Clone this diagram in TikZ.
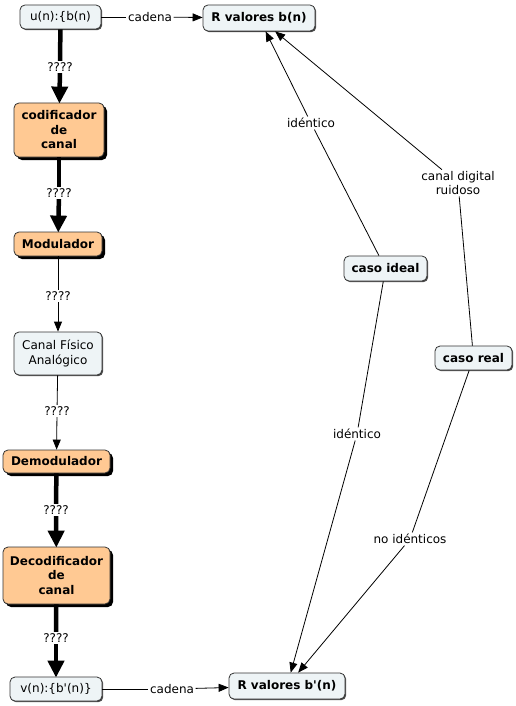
\documentclass[tikz,border=0pt]{standalone}
\usepackage{fontspec}
\setmainfont{DejaVu Sans}
\usetikzlibrary{arrows.meta,shadows}
\definecolor{lightc}{HTML}{EEF4F6}
\definecolor{orangec}{HTML}{FFC993}
\tikzset{
  concept/.style={draw=black!80, line width=0.8pt, rounded corners=5pt, fill=lightc,
    align=center, inner sep=1pt, font=\fontsize{12}{15}\selectfont,
    drop shadow={shadow xshift=1.2pt, shadow yshift=-1.2pt, fill=black!70, opacity=1}},
  orange/.style={concept, fill=orangec, font=\fontsize{12}{14.5}\selectfont\bfseries,
    drop shadow={shadow xshift=3pt, shadow yshift=-3pt, fill=black, opacity=1}},
  boldc/.style={concept, font=\fontsize{12}{14}\selectfont\bfseries},
  lbl/.style={inner sep=1.5pt, align=center, font=\fontsize{12}{14}\selectfont},
  thin/.style={line width=0.8pt},
  thinarr/.style={thin, -{Triangle[width=8pt,length=10pt]}},
  thick/.style={line width=4.5pt},
  thickarr/.style={thick, -{Triangle[width=16pt,length=17pt]}, shorten >=-1pt},
}
\begin{document}
\begin{tikzpicture}[x=1pt,y=-1pt]
\useasboundingbox (0,0) rectangle (515,706);
% concepts
\node[concept, minimum width=81pt, minimum height=24pt] (u) at (60.5,17) {u(n):\{b(n)};
\node[boldc, minimum width=112pt, minimum height=26pt] (Rb) at (259,18) {R valores b(n)};
\node[orange, minimum width=90pt, minimum height=54pt] (cod) at (59,130) {codificador\\de\\canal};
\node[orange, minimum width=88pt, minimum height=24pt] (mod) at (58,244) {Modulador};
\node[concept, minimum width=88pt, minimum height=43pt] (canal) at (58,353.5) {Canal Físico\\Analógico};
\node[orange, minimum width=107pt, minimum height=23pt] (demod) at (56.5,461.5) {Demodulador};
\node[orange, minimum width=107pt, minimum height=57pt] (decod) at (56.5,575.5) {Decodificador\\de\\canal};
\node[concept, minimum width=92pt, minimum height=24pt] (v) at (56,689) {v(n):\{b\textquotesingle(n)\}};
\node[boldc, minimum width=116pt, minimum height=26pt] (Rbp) at (287,686) {R valores b\textquotesingle(n)};
\node[boldc, minimum width=83pt, minimum height=25pt] (ideal) at (385.5,268.5) {caso ideal};
\node[boldc, minimum width=77pt, minimum height=24pt] (real) at (473.5,358) {caso real};
% linking phrases
\node[lbl] (l1) at (60,67) {????};
\node[lbl] (l2) at (150,17) {cadena};
\node[lbl] (l3) at (59,193) {????};
\node[lbl] (l4) at (58,296) {????};
\node[lbl] (l5) at (57,411) {????};
\node[lbl] (l6) at (56,510) {????};
\node[lbl] (l7) at (56,638) {????};
\node[lbl] (l8) at (172,689) {cadena};
\node[lbl] (l9) at (311,123) {idéntico};
\node[lbl] (l10) at (458,183) {canal digital\\ruidoso};
\node[lbl] (l11) at (357,434) {idéntico};
\node[lbl] (l12) at (410,539) {no idénticos};
% connectors
\draw[thick] (u) -- (l1);
\draw[thickarr] (l1) -- (cod);
\draw[thin] (u) -- (l2);
\draw[thinarr] (l2) -- (Rb);
\draw[thick] (cod) -- (l3);
\draw[thickarr] (l3) -- (mod);
\draw[thin] (mod) -- (l4);
\draw[thinarr] (l4) -- (canal);
\draw[thin] (canal) -- (l5);
\draw[thinarr] (l5) -- (demod);
\draw[thick] (demod) -- (l6);
\draw[thickarr] (l6) -- (decod);
\draw[thick] (decod) -- (l7);
\draw[thickarr] (l7) -- (v);
\draw[thin] (v) -- (l8);
\draw[thinarr] (l8) -- (Rbp);
\draw[thin] (ideal) -- (l9);
\draw[thinarr] (l9) -- (Rb);
\draw[thin] (real) -- (l10);
\draw[thinarr] (l10) -- (Rb);
\draw[thin] (ideal) -- (l11);
\draw[thinarr] (l11) -- (Rbp);
\draw[thin] (real) -- (l12);
\draw[thinarr] (l12) -- (Rbp);
\end{tikzpicture}
\end{document}
